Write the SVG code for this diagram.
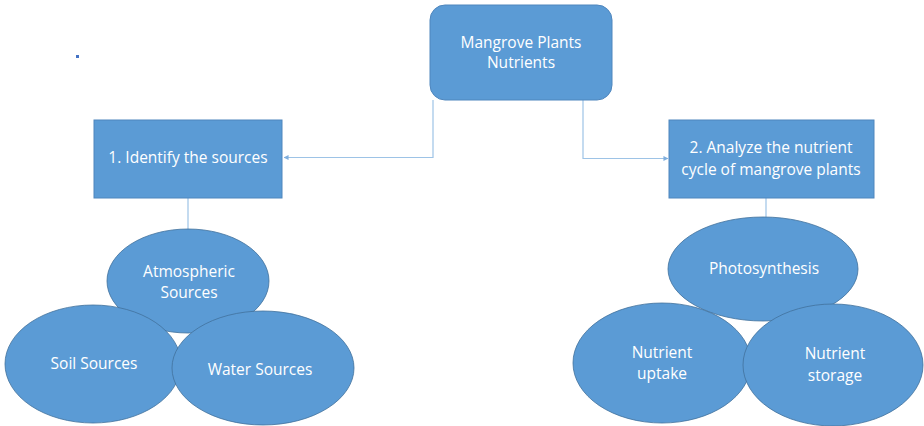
<svg xmlns="http://www.w3.org/2000/svg" width="924" height="426" viewBox="0 0 924 426">
<defs>
<marker id="arr" viewBox="0 0 6 6" refX="5.5" refY="3" markerWidth="5" markerHeight="5" orient="auto" markerUnits="userSpaceOnUse">
<path d="M0,0 L6,3 L0,6 z" fill="#7FAEDD"/>
</marker>
</defs>
<style>
.n{fill:#5B9BD5;stroke:#4F86BD;stroke-width:1}
.e{fill:#5B9BD5;stroke:#41719C;stroke-width:0.8}
.t{font-family:"Open Sans","Liberation Sans",Arial,sans-serif;font-size:15.5px;fill:#FFFFFF;text-anchor:middle}
.c{fill:none;stroke:#9DC3E6;stroke-width:1.2}
</style>
<rect x="0" y="0" width="924" height="426" fill="#FFFFFF"/>
<rect x="76" y="55" width="3" height="3" fill="#4472C4"/>
<g id="connectors">
<path class="c" d="M433,100 V157.5 H284" marker-end="url(#arr)"/>
<path class="c" d="M583,100 V158.5 H668" marker-end="url(#arr)"/>
<path class="c" d="M188,198 V230"/>
<path class="c" d="M766,198 V219"/>
</g>
<g id="root">
<rect class="n" x="430" y="5" width="182" height="95" rx="15"/>
<text class="t" x="521" y="48">Mangrove Plants</text>
<text class="t" x="521" y="68">Nutrients</text>
</g>
<g id="identify">
<rect class="n" x="94" y="120" width="188" height="78"/>
<text class="t" x="188" y="163">1. Identify the sources</text>
</g>
<g id="analyze">
<rect class="n" x="669" y="120" width="205" height="78"/>
<text class="t" x="771" y="153">2. Analyze the nutrient</text>
<text class="t" x="771" y="175">cycle of mangrove plants</text>
</g>
<g id="atmospheric">
<ellipse class="e" cx="188" cy="281" rx="81" ry="52"/>
<text class="t" x="189" y="277">Atmospheric</text>
<text class="t" x="189" y="298">Sources</text>
</g>
<g id="soil">
<ellipse class="e" cx="93" cy="364" rx="88" ry="59"/>
<text class="t" x="94" y="369">Soil Sources</text>
</g>
<g id="water">
<ellipse class="e" cx="263" cy="368" rx="91" ry="57"/>
<text class="t" x="260" y="375">Water Sources</text>
</g>
<g id="photosynthesis">
<ellipse class="e" cx="763" cy="269" rx="95" ry="52"/>
<text class="t" x="764" y="274">Photosynthesis</text>
</g>
<g id="uptake">
<ellipse class="e" cx="662" cy="363" rx="89" ry="60"/>
<text class="t" x="662" y="358">Nutrient</text>
<text class="t" x="662" y="379">uptake</text>
</g>
<g id="storage">
<ellipse class="e" cx="833" cy="365" rx="90" ry="61"/>
<text class="t" x="835" y="359">Nutrient</text>
<text class="t" x="835" y="381">storage</text>
</g>
</svg>
